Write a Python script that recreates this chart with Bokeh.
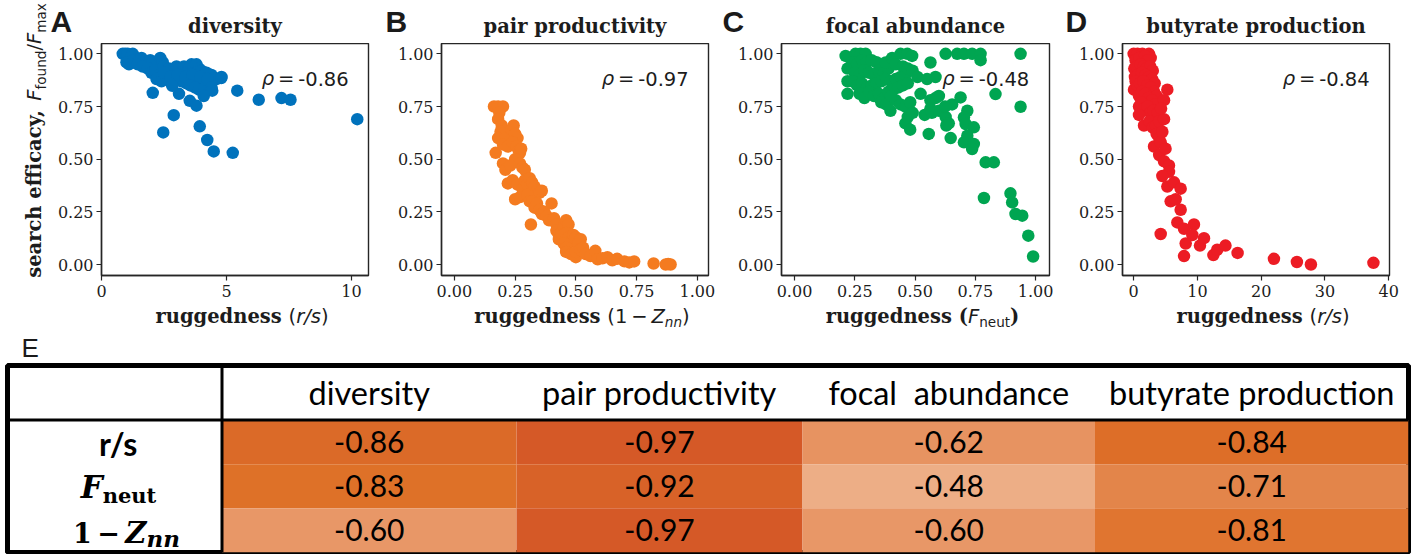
import glob, os, struct, math
import numpy as np
from bokeh.plotting import figure
from bokeh.models import (Range1d, Label, FixedTicker, NumeralTickFormatter, Span,
                          ColumnDataSource, LinearColorMapper)
from bokeh.layouts import row, column
from bokeh.embed import file_html
from bokeh.resources import INLINE
from bokeh.core.properties import value

# ----------------------------------------------------------------- data
TITLES = ["diversity", "pair productivity", "focal abundance", "butyrate production"]
LETTERS = ["A", "B", "C", "D"]
RHO = [-0.86, -0.97, -0.48, -0.84]

A_x = [0.85, 0.95, 1.05, 1.25, 1.15, 1.0, 1.1, 1.3, 1.5, 1.6, 1.7, 1.8, 1.95, 2.05, 2.2, 2.35, 2.45,
       1.45, 1.65, 1.85, 2.0, 2.15, 2.3, 2.5, 2.6, 2.7, 2.8, 2.9, 3.0, 3.1, 3.2, 3.3, 3.4, 3.5, 3.6,
       3.7, 3.8, 3.9, 4.0, 4.1, 4.2, 4.3, 4.4, 4.6, 4.8, 2.2, 2.4, 2.6, 2.8, 3.0, 3.2, 3.4, 3.6, 3.8,
       4.0, 4.2, 2.5, 2.75, 3.05, 3.35, 3.65, 3.95, 4.25, 3.55, 3.75, 3.9, 4.1, 4.4,
       2.05, 2.47, 2.89, 3.1, 3.53, 3.8, 3.93, 4.23, 4.49, 5.25, 5.43, 6.29, 7.2, 7.56, 10.23,
       4.79, 4.43, 4.09, 2.83]
A_y = [1.0, 1.0, 1.0, 1.0, 0.98, 0.96, 0.95, 0.97, 0.97, 0.98, 0.96, 0.95, 0.97, 0.96, 0.94, 0.98, 0.96,
       0.95, 0.94, 0.93, 0.91, 0.92, 0.90, 0.94, 0.92, 0.93, 0.90, 0.92, 0.94, 0.93, 0.91, 0.94, 0.92,
       0.93, 0.95, 0.94, 0.95, 0.93, 0.92, 0.90, 0.91, 0.89, 0.90, 0.88, 0.89, 0.88, 0.87, 0.89, 0.86,
       0.88, 0.87, 0.86, 0.88, 0.87, 0.85, 0.86, 0.91, 0.89, 0.90, 0.89, 0.90, 0.89, 0.88, 0.85, 0.84,
       0.83, 0.82, 0.84,
       0.815, 0.627, 0.709, 0.81, 0.777, 0.754, 0.656, 0.591, 0.537, 0.53, 0.825, 0.782, 0.79, 0.782,
       0.69, 0.885, 0.825, 0.80, 0.848]

B_x = [0.163, 0.18, 0.20, 0.185, 0.18, 0.195, 0.19, 0.18, 0.17, 0.21, 0.20, 0.22, 0.235, 0.244, 0.25,
       0.26, 0.24, 0.255, 0.265, 0.27, 0.275, 0.25, 0.2, 0.21, 0.23, 0.27, 0.28, 0.29, 0.22, 0.24, 0.26,
       0.25, 0.27, 0.28, 0.29, 0.30, 0.31, 0.32, 0.33, 0.34, 0.35, 0.36, 0.30, 0.31, 0.32, 0.33, 0.34,
       0.35, 0.36, 0.37, 0.38, 0.40, 0.315, 0.39, 0.41, 0.42, 0.42, 0.43, 0.43, 0.44, 0.45, 0.46, 0.47,
       0.46, 0.47, 0.48, 0.49, 0.50, 0.51, 0.52, 0.45, 0.46, 0.46, 0.48, 0.50, 0.50, 0.52, 0.53, 0.54,
       0.56, 0.58, 0.59, 0.61, 0.63, 0.65, 0.67, 0.70, 0.72, 0.74, 0.82, 0.87, 0.89, 0.88]
B_y = [0.75, 0.75, 0.75, 0.72, 0.69, 0.66, 0.63, 0.60, 0.53, 0.60, 0.57, 0.56, 0.64, 0.66, 0.62,
       0.60, 0.58, 0.56, 0.54, 0.53, 0.55, 0.50, 0.48, 0.45, 0.47, 0.48, 0.46, 0.45, 0.385, 0.40, 0.38,
       0.31, 0.32, 0.36, 0.40, 0.38, 0.41, 0.39, 0.37, 0.35, 0.34, 0.35, 0.33, 0.30, 0.30, 0.27, 0.29,
       0.26, 0.24, 0.25, 0.23, 0.29, 0.19, 0.21, 0.22, 0.19, 0.16, 0.14, 0.12, 0.15, 0.18, 0.21, 0.19,
       0.15, 0.13, 0.11, 0.14, 0.13, 0.10, 0.12, 0.10, 0.08, 0.06, 0.05, 0.035, 0.06, 0.07, 0.08, 0.05,
       0.04, 0.065, 0.025, 0.03, 0.035, 0.02, 0.027, 0.015, 0.01, 0.015, 0.005, 0.0, 0.0, 0.003]

C_x = [0.212, 0.253, 0.274, 0.295, 0.22, 0.22, 0.22, 0.24, 0.26, 0.28, 0.30, 0.32, 0.34, 0.25, 0.27,
       0.29, 0.31, 0.33, 0.35, 0.37, 0.39, 0.24, 0.26, 0.28, 0.30, 0.32, 0.34, 0.36, 0.38, 0.40, 0.42,
       0.44, 0.46, 0.27, 0.29, 0.31, 0.33, 0.35, 0.37, 0.39, 0.41, 0.43, 0.45, 0.47, 0.36, 0.38, 0.42,
       0.44, 0.46, 0.48, 0.40, 0.378, 0.405, 0.44, 0.468, 0.488, 0.42, 0.45, 0.47, 0.49, 0.398, 0.46,
       0.48, 0.47, 0.49,
       0.523, 0.564, 0.51, 0.55, 0.585, 0.564, 0.585, 0.599, 0.564, 0.54, 0.57, 0.599, 0.627, 0.64,
       0.654, 0.63, 0.557, 0.648, 0.625,
       0.627, 0.675, 0.703, 0.737, 0.772, 0.772, 0.689, 0.717, 0.703, 0.71, 0.744, 0.717, 0.703, 0.744,
       0.737, 0.793, 0.827, 0.834, 0.786, 0.896, 0.903, 0.917, 0.945, 0.938, 0.938, 0.97, 0.99]
C_y = [0.99, 1.0, 1.0, 1.0, 0.93, 0.87, 0.81, 0.96, 0.95, 0.97, 0.96, 0.97, 0.96, 0.91, 0.90,
       0.92, 0.91, 0.90, 0.92, 0.91, 0.93, 0.87, 0.85, 0.86, 0.84, 0.85, 0.86, 0.87, 0.88, 0.87, 0.88,
       0.89, 0.90, 0.81, 0.79, 0.82, 0.80, 0.81, 0.79, 0.82, 0.83, 0.84, 0.85, 0.86, 0.77, 0.76, 0.78,
       0.76, 0.75, 0.77, 0.80, 0.959, 0.98, 1.0, 1.0, 0.99, 0.95, 0.94, 0.93, 0.92, 0.73, 0.67,
       0.64, 0.70, 0.72,
       0.81, 0.959, 0.89, 0.88, 0.89, 0.78, 0.79, 0.80, 0.74, 0.71, 0.72, 0.73, 0.70, 0.67,
       0.76, 0.66, 0.62, 0.60, 0.75,
       1.0, 1.0, 1.0, 1.0, 1.0, 0.97, 0.793, 0.73, 0.698, 0.667, 0.651, 0.611, 0.58, 0.572,
       0.548, 0.485, 0.485, 0.809, 0.316, 0.338, 0.295, 0.24, 0.232, 1.0, 0.749, 0.137, 0.038]

D_x = [0.0, 0.6, 1.36, 2.4, 2.67, 0.3, 0.9, 1.8, 2.2, 0.1, 0.5, 1.1, 1.6, 2.0, 2.6, 3.0, 0.2, 0.7,
       1.3, 1.9, 2.4, 2.9, 3.3, 0.05, 0.31, 0.6, 1.0, 1.5, 2.1, 2.7, 3.2, 3.6, 0.84, 1.3, 1.8, 2.3,
       2.9, 3.4, 0.84, 1.2, 1.6, 2.2, 2.6, 3.1, 3.8, 0.84, 1.62, 2.5, 3.0, 3.5, 4.0, 4.76, 5.28, 4.76,
       4.3, 3.6, 3.19, 4.0, 4.24, 4.5, 4.0, 4.76, 5.0, 5.54, 5.54, 4.5, 5.28, 6.33, 7.37, 5.8, 6.59,
       7.37, 4.24, 6.85, 7.9, 9.46, 9.2, 8.16, 10.4, 11.03, 7.9, 12.5, 13.1, 14.4, 16.3, 22.0, 25.6,
       27.8, 37.6]
D_y = [1.0, 1.0, 1.0, 1.0, 0.98, 0.97, 0.98, 0.99, 0.97, 0.93, 0.94, 0.95, 0.94, 0.93, 0.94, 0.92,
       0.89, 0.90, 0.91, 0.90, 0.89, 0.88, 0.86, 0.83, 0.87, 0.85, 0.86, 0.87, 0.85, 0.84, 0.82, 0.80,
       0.80, 0.82, 0.81, 0.79, 0.78, 0.76, 0.75, 0.77, 0.74, 0.75, 0.72, 0.73, 0.72, 0.71, 0.66, 0.68,
       0.65, 0.66, 0.68, 0.69, 0.83, 0.78, 0.74, 0.62, 0.56, 0.60, 0.58, 0.63, 0.52, 0.49, 0.55, 0.47,
       0.44, 0.42, 0.37, 0.39, 0.36, 0.30, 0.31, 0.26, 0.145, 0.20, 0.17, 0.19, 0.14, 0.10, 0.09,
       0.125, 0.04, 0.045, 0.07, 0.09, 0.055, 0.027, 0.012, 0.0, 0.008]

Y_TICKS = [0.0, 0.25, 0.5, 0.75, 1.0]
X_TICKS = [[0, 5, 10], [0.0, 0.25, 0.5, 0.75, 1.0], [0.0, 0.25, 0.5, 0.75, 1.0], [0, 10, 20, 30, 40]]

TABLE_COLS = ["diversity", "pair productivity", "focal\u00a0 abundance", "butyrate production"]
TABLE_ROWS = ["r/s", "F_neut", "1 − Z_nn"]
TABLE_VALS = [[-0.86, -0.97, -0.62, -0.84],
              [-0.83, -0.92, -0.48, -0.71],
              [-0.60, -0.97, -0.60, -0.81]]

# ----------------------------------------------------------------- font metrics (for composing mixed-style labels)
_FONT_FILES = {
    ("DejaVu Serif", "bold"): "DejaVuSerif-Bold.ttf",
    ("DejaVu Serif", "normal"): "DejaVuSerif.ttf",
    ("DejaVu Serif", "bold italic"): "DejaVuSerif-BoldItalic.ttf",
    ("DejaVu Sans", "normal"): "DejaVuSans.ttf",
    ("DejaVu Sans", "italic"): "DejaVuSans-Oblique.ttf",
    ("Liberation Sans", "bold"): "LiberationSans-Bold.ttf",
    ("Liberation Sans", "normal"): "LiberationSans-Regular.ttf",
    ("Lato", "bold"): "Lato-Bold.ttf",
    ("Lato", "normal"): "Lato-Regular.ttf",
}
_CACHE = {}


def _find(fname):
    for root in ["/usr/share/fonts", "/usr/local/share/fonts",
                 os.path.expanduser("~/.fonts"), os.path.expanduser("~/.local/share/fonts")]:
        try:
            hits = glob.glob(os.path.join(root, "**", fname), recursive=True)
        except Exception:
            hits = []
        if hits:
            return hits[0]
    return None


def _load(path):
    data = open(path, "rb").read()
    n = struct.unpack(">H", data[4:6])[0]
    tabs = {}
    for i in range(n):
        tag, _, off, ln = struct.unpack(">4sIII", data[12 + 16 * i:28 + 16 * i])
        tabs[tag.decode("latin1")] = off
    upem = struct.unpack(">H", data[tabs["head"] + 18:tabs["head"] + 20])[0]
    nhm = struct.unpack(">H", data[tabs["hhea"] + 34:tabs["hhea"] + 36])[0]
    ho = tabs["hmtx"]
    adv = [struct.unpack(">H", data[ho + 4 * i:ho + 4 * i + 2])[0] for i in range(nhm)]
    co = tabs["cmap"]
    nsub = struct.unpack(">H", data[co + 2:co + 4])[0]
    best = None
    for i in range(nsub):
        pid, eid, so = struct.unpack(">HHI", data[co + 4 + 8 * i:co + 12 + 8 * i])
        fmt = struct.unpack(">H", data[co + so:co + so + 2])[0]
        if fmt in (4, 12) and (best is None or (pid == 3 and fmt == 4 and best[1] != 12)):
            best = (co + so, fmt)
    cmap = {}
    off, fmt = best
    if fmt == 4:
        segx2 = struct.unpack(">H", data[off + 6:off + 8])[0]
        seg = segx2 // 2
        ends = struct.unpack(">%dH" % seg, data[off + 14:off + 14 + segx2])
        starts = struct.unpack(">%dH" % seg, data[off + 16 + segx2:off + 16 + 2 * segx2])
        deltas = struct.unpack(">%dh" % seg, data[off + 16 + 2 * segx2:off + 16 + 3 * segx2])
        ro = off + 16 + 3 * segx2
        ros = struct.unpack(">%dH" % seg, data[ro:ro + segx2])
        for s in range(seg):
            for c in range(starts[s], ends[s] + 1):
                if c == 0xFFFF:
                    continue
                if ros[s] == 0:
                    g = (c + deltas[s]) & 0xFFFF
                else:
                    a = ro + 2 * s + ros[s] + 2 * (c - starts[s])
                    g = struct.unpack(">H", data[a:a + 2])[0]
                    if g:
                        g = (g + deltas[s]) & 0xFFFF
                cmap[c] = g
    else:
        ng = struct.unpack(">I", data[off + 12:off + 16])[0]
        for k in range(ng):
            sc, ec, sg = struct.unpack(">III", data[off + 16 + 12 * k:off + 28 + 12 * k])
            for c in range(sc, min(ec, 0x2FFFF) + 1):
                cmap[c] = sg + c - sc
    return upem, adv, cmap


def text_width(text, family, style, size):
    key = (family, style)
    if key not in _CACHE:
        m = None
        fname = _FONT_FILES.get(key)
        if fname:
            p = _find(fname)
            if p:
                try:
                    m = _load(p)
                except Exception:
                    m = None
        _CACHE[key] = m
    m = _CACHE[key]
    if m is None:
        return 0.6 * size * len(text)
    upem, adv, cmap = m
    tot = 0
    for ch in text:
        g = cmap.get(ord(ch), 0)
        tot += adv[min(g, len(adv) - 1)]
    return tot / upem * size


TXT = "#1c1c1c"
MID = 0.35   # distance (in em) from the alphabetic baseline up to the "middle" anchor


def rich(fig, pieces, x, y, anchor="center", angle=0.0, x_units="screen", y_units="screen",
         color=TXT, y_off=0.0):
    """Draw a run of differently styled pieces sharing one baseline at (x, y)."""
    ws = [text_width(t, f, s, z) for (t, (f, s), z, sh) in pieces]
    total = sum(ws)
    pos = {"left": 0.0, "center": -total / 2.0, "right": -total}[anchor]
    for (t, (f, s), z, sh), w in zip(pieces, ws):
        lift = MID * z - sh
        if angle == 0:
            off = dict(x_offset=pos, y_offset=y_off + lift)
        else:
            off = dict(x_offset=-lift, y_offset=y_off + pos)
        fig.add_layout(Label(x=x, y=y, x_units=x_units, y_units=y_units, text=t,
                             text_font=f, text_font_style=s, text_font_size=f"{z}px",
                             text_color=color, text_align="left", text_baseline="middle",
                             angle=angle, **off))
        pos += w


SERB = ("DejaVu Serif", "bold")
SANS = ("DejaVu Sans", "normal")
SANSI = ("DejaVu Sans", "italic")
FS = 19.5
SUB = round(FS * 0.7, 1)
SH = 4

XLABELS = [
    [("ruggedness ", SERB, FS, 0), ("(", SANS, FS, 0), ("r/s", SANSI, FS, 0), (")", SANS, FS, 0)],
    [("ruggedness ", SERB, FS, 0), ("(1\u2009\u2212\u2009", SANS, FS, 0), ("Z", SANSI, FS, 0),
     ("nn", SANSI, SUB, SH), (")", SANS, FS, 0)],
    [("ruggedness (", SERB, FS, 0), ("F", SANSI, FS, 0), ("neut", SANS, SUB, SH), (")", SERB, FS, 0)],
    [("ruggedness ", SERB, FS, 0), ("(", SANS, FS, 0), ("r/s", SANSI, FS, 0), (")", SANS, FS, 0)],
]
YLABEL = [("search efficacy, ", SERB, FS, 0), ("F", SANSI, FS, 0), ("found", SANS, SUB, SH),
          ("/", SANS, FS, 0), ("F", SANSI, FS, 0), ("max", SANS, SUB, SH)]

COLORS = ["#0072BC", "#F47B20", "#00A551", "#EC1C24"]
XS = [A_x, B_x, C_x, D_x]
YS = [A_y, B_y, C_y, D_y]


def blank(w, h):
    f = figure(width=w, height=h, x_range=Range1d(0, 1), y_range=Range1d(0, 1), title=None,
               x_axis_location=None, y_axis_location=None, output_backend="svg",
               toolbar_location=None, min_border=0)
    f.min_border_left = f.min_border_right = f.min_border_top = f.min_border_bottom = 0
    f.grid.visible = False
    f.outline_line_color = None
    return f


# ---------------------------------------------------------------- layout (pixels)
STRIP_W = 49
HEAD_H = 43
FH = 232
BOT = 28
MID_H = FH + BOT
GEOM = [  # (fig width, border left, border right, x range)
    (344, 52, 25, (0.0, 10.68)),
    (340, 48, 25, (-0.053, 1.046)),
    (340, 48, 24, (-0.054, 1.058)),
    (343, 49, 27, (-1.75, 40.12)),
]
FMT = ["0", "0.00", "0.00", "0"]

header = blank(1416 - STRIP_W, HEAD_H)
strip = blank(STRIP_W, HEAD_H + MID_H)
panels = []
x0 = STRIP_W
for i in range(4):
    W, bl, br, xr = GEOM[i]
    FW = W - bl - br
    p = figure(width=W, height=MID_H, x_range=Range1d(*xr), y_range=Range1d(-0.052, 1.049),
               title=None, output_backend="svg", toolbar_location=None,
               min_border_left=bl, min_border_right=br, min_border_top=0, min_border_bottom=BOT)
    p.grid.visible = False
    p.outline_line_color = "#262626"
    p.outline_line_width = 1.4
    for ax in (p.xaxis[0], p.yaxis[0]):
        ax.major_tick_out = 5
        ax.major_tick_in = 0
        ax.minor_tick_out = 0
        ax.minor_tick_in = 0
        ax.axis_line_color = "#262626"
        ax.axis_line_width = 1.4
        ax.major_tick_line_color = "#262626"
        ax.major_tick_line_width = 1.2
        ax.major_label_text_font = "DejaVu Serif"
        ax.major_label_text_font_size = "16px"
        ax.major_label_text_color = TXT
    p.yaxis[0].major_label_standoff = 3
    p.xaxis[0].major_label_standoff = 4
    p.yaxis[0].ticker = FixedTicker(ticks=Y_TICKS)
    p.yaxis[0].formatter = NumeralTickFormatter(format="0.00")
    p.xaxis[0].ticker = FixedTicker(ticks=X_TICKS[i])
    p.xaxis[0].formatter = NumeralTickFormatter(format=FMT[i])

    p.scatter(XS[i], YS[i], size=12.5, color=COLORS[i], marker="circle", line_width=0)

    # correlation coefficient (inside the axes)
    rich(p, [("\u03c1", SANSI, FS, 0), ("\u2009=\u2009", SANS, FS, 0), (f"{RHO[i]:.2f}", SANS, FS, 0)],
         0.6 * FW, 190, anchor="left")

    # panel letter and title in the header strip
    fx = x0 + bl - STRIP_W          # frame left, in header coordinates
    letter_dx = [-51, -56, -59, -57][i]
    rich(header, [(LETTERS[i], ("Liberation Sans", "bold"), 30, 0)], fx + letter_dx, HEAD_H - 31,
         anchor="left", color="#1a1a1a")
    rich(header, [(TITLES[i], SERB, FS, 0)], fx + FW / 2, HEAD_H - 33, anchor="center")
    panels.append(p)
    x0 += W

# y label, rotated, in the left strip
rich(strip, YLABEL, 41, HEAD_H + MID_H - 140, anchor="center", angle=math.pi / 2)

# footer: x-axis labels and the "E" panel letter
FOOT_TOP = HEAD_H + MID_H
FOOT_H = 363 - FOOT_TOP
footer = blank(1416, FOOT_H)
x0 = STRIP_W
for i in range(4):
    W, bl, br, xr = GEOM[i]
    FW = W - bl - br
    rich(footer, XLABELS[i], x0 + bl + FW / 2, FOOT_TOP + FOOT_H - 322.5, anchor="center")
    x0 += W
rich(footer, [("E", ("Liberation Sans", "normal"), 26, 0)], 14, FOOT_TOP + FOOT_H - 357,
     anchor="left", color="#1a1a1a")

# ----------------------------------------------------------------- table
NR, NC = len(TABLE_ROWS), len(TABLE_COLS)
LBL_W = 214.5                       # label column width (px)
COL_W = [294.5, 286.0, 292.5, 313.5]  # value column widths (px)
ROW_H = 44.17
HDR_H = 54.5
T_H = 554 - FOOT_TOP - FOOT_H

stops_v = [-0.97, -0.92, -0.86, -0.83, -0.81, -0.71, -0.61, -0.48]
stops_c = [(213, 89, 39), (216, 98, 40), (219, 106, 40), (222, 113, 40), (224, 117, 48),
           (227, 133, 74), (232, 149, 100), (237, 174, 134)]
grid_v = np.linspace(-0.97, -0.48, 256)
pal = []
for v in grid_v:
    r = int(round(np.interp(v, stops_v, [c[0] for c in stops_c])))
    g = int(round(np.interp(v, stops_v, [c[1] for c in stops_c])))
    b = int(round(np.interp(v, stops_v, [c[2] for c in stops_c])))
    pal.append("#%02x%02x%02x" % (r, g, b))
mapper = LinearColorMapper(palette=pal, low=-0.97, high=-0.48)

t = figure(width=1416, height=T_H, x_range=Range1d(-LBL_W, sum(COL_W)),
           y_range=Range1d(0, NR * ROW_H + HDR_H),
           title=None, x_axis_location=None, y_axis_location=None, output_backend="svg",
           toolbar_location=None, min_border_left=7, min_border_right=8,
           min_border_top=T_H - 2 - 187, min_border_bottom=2)
t.grid.visible = False
t.outline_line_color = "black"
t.outline_line_width = 5
t.outline_line_alpha = 1.0

col_left = np.concatenate([[0.0], np.cumsum(COL_W)[:-1]])
col_mid = col_left + np.array(COL_W) / 2.0
cx, cy, cw, cv, ct = [], [], [], [], []
for r in range(NR):
    for c in range(NC):
        cx.append(col_mid[c])
        cy.append((NR - r - 0.5) * ROW_H)
        cw.append(COL_W[c])
        cv.append(TABLE_VALS[r][c])
        ct.append(f"{TABLE_VALS[r][c]:.2f}")
src = ColumnDataSource(dict(x=cx, y=cy, w=cw, v=cv, t=ct))
t.rect(x="x", y="y", width="w", height=ROW_H, source=src,
       fill_color={"field": "v", "transform": mapper}, line_color=None)
t.text(x="x", y="y", text="t", source=src, text_font=value("Lato"), text_font_size="30px",
       text_align="center", text_baseline="middle", text_color="black")
t.text(x=list(col_mid), y=[NR * ROW_H + HDR_H / 2] * NC, text=TABLE_COLS,
       text_font=value("Lato"), text_font_size="32.5px", text_align="center",
       text_baseline="middle", text_color="black")
t.add_layout(Span(location=NR * ROW_H, dimension="width", line_color="black", line_width=3))
t.add_layout(Span(location=0, dimension="height", line_color="black", line_width=3))

SERBI = ("DejaVu Serif", "bold italic")
ROW_PIECES = {
    "r/s": [("r/s", ("Lato", "bold"), 32, 0)],
    "F_neut": [("F", SERBI, 31, 0), ("neut", SERB, 21, 5)],
    "1 − Z_nn": [("1\u2009\u2212\u2009", SERB, 27, 0), ("Z", SERBI, 29, 0), ("nn", SERBI, 23, 3)],
}
ROW_BASE = [-13, -12, -13]
ROW_CX = [112, 111, 119]
for r, name in enumerate(TABLE_ROWS):
    rich(t, ROW_PIECES[name], ROW_CX[r], (NR - r - 0.5) * ROW_H, anchor="center", y_units="data",
         color="black", y_off=ROW_BASE[r])

layout = column(row(strip, column(header, row(*panels, spacing=0), spacing=0), spacing=0),
                footer, t, spacing=0)
open("out.html", "w").write(file_html(layout, INLINE))
